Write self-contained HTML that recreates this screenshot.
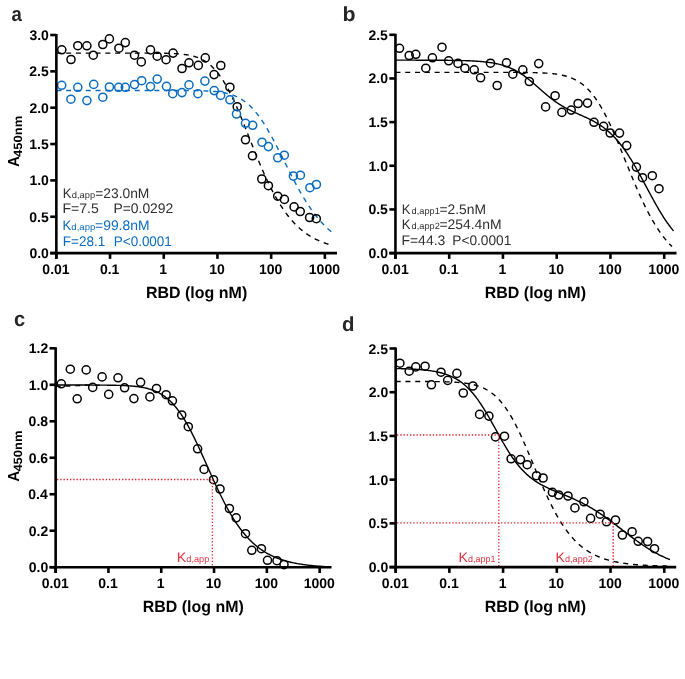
<!DOCTYPE html>
<html><head><meta charset="utf-8"><style>
html,body{margin:0;padding:0;background:#fff;width:685px;height:679px;overflow:hidden;}
svg{display:block;will-change:transform;}
text{font-family:"Liberation Sans",sans-serif;text-rendering:geometricPrecision;}
</style></head><body>
<svg width="685" height="679" viewBox="0 0 685 679">
<rect width="685" height="679" fill="#fff"/>
<text x="11.54" y="21.30" font-size="20.5" font-weight="bold" fill="#262626" textLength="10.34" lengthAdjust="spacingAndGlyphs">a</text>
<path d="M56.35,53.10 L57.35,53.10 L58.35,53.10 L59.35,53.10 L60.35,53.10 L61.35,53.10 L62.35,53.10 L63.35,53.10 L64.35,53.10 L65.35,53.10 L66.35,53.10 L67.35,53.10 L68.35,53.10 L69.35,53.10 L70.35,53.10 L71.35,53.10 L72.35,53.10 L73.35,53.10 L74.35,53.10 L75.35,53.10 L76.35,53.10 L77.35,53.10 L78.35,53.10 L79.35,53.10 L80.35,53.10 L81.35,53.10 L82.35,53.10 L83.35,53.10 L84.35,53.10 L85.35,53.10 L86.35,53.10 L87.35,53.10 L88.35,53.10 L89.35,53.10 L90.35,53.10 L91.35,53.10 L92.35,53.10 L93.35,53.10 L94.35,53.10 L95.35,53.10 L96.35,53.10 L97.35,53.10 L98.35,53.10 L99.35,53.10 L100.35,53.10 L101.35,53.10 L102.35,53.10 L103.35,53.10 L104.35,53.10 L105.35,53.10 L106.35,53.10 L107.35,53.10 L108.35,53.10 L109.35,53.10 L110.35,53.10 L111.35,53.10 L112.35,53.10 L113.35,53.10 L114.35,53.10 L115.35,53.10 L116.35,53.10 L117.35,53.10 L118.35,53.10 L119.35,53.10 L120.35,53.10 L121.35,53.10 L122.35,53.10 L123.35,53.10 L124.35,53.10 L125.35,53.10 L126.35,53.11 L127.35,53.11 L128.35,53.11 L129.35,53.11 L130.35,53.11 L131.35,53.11 L132.35,53.11 L133.35,53.11 L134.35,53.11 L135.35,53.11 L136.35,53.11 L137.35,53.11 L138.35,53.11 L139.35,53.11 L140.35,53.12 L141.35,53.12 L142.35,53.12 L143.35,53.12 L144.35,53.12 L145.35,53.13 L146.35,53.13 L147.35,53.13 L148.35,53.13 L149.35,53.14 L150.35,53.14 L151.35,53.15 L152.35,53.15 L153.35,53.16 L154.35,53.16 L155.35,53.17 L156.35,53.18 L157.35,53.19 L158.35,53.20 L159.35,53.21 L160.35,53.22 L161.35,53.23 L162.35,53.25 L163.35,53.26 L164.35,53.28 L165.35,53.30 L166.35,53.32 L167.35,53.35 L168.35,53.38 L169.35,53.41 L170.35,53.44 L171.35,53.47 L172.35,53.51 L173.35,53.56 L174.35,53.61 L175.35,53.66 L176.35,53.72 L177.35,53.78 L178.35,53.85 L179.35,53.93 L180.35,54.01 L181.35,54.11 L182.35,54.21 L183.35,54.32 L184.35,54.44 L185.35,54.57 L186.35,54.72 L187.35,54.88 L188.35,55.05 L189.35,55.24 L190.35,55.44 L191.35,55.66 L192.35,55.90 L193.35,56.16 L194.35,56.44 L195.35,56.74 L196.35,57.07 L197.35,57.42 L198.35,57.80 L199.35,58.21 L200.35,58.65 L201.35,59.12 L202.35,59.63 L203.35,60.17 L204.35,60.75 L205.35,61.36 L206.35,62.02 L207.35,62.72 L208.35,63.47 L209.35,64.26 L210.35,65.10 L211.35,65.98 L212.35,66.92 L213.35,67.91 L214.35,68.96 L215.35,70.05 L216.35,71.21 L217.35,72.42 L218.35,73.69 L219.35,75.01 L220.35,76.40 L221.35,77.84 L222.35,79.35 L223.35,80.91 L224.35,82.53 L225.35,84.21 L226.35,85.95 L227.35,87.75 L228.35,89.60 L229.35,91.51 L230.35,93.47 L231.35,95.49 L232.35,97.55 L233.35,99.66 L234.35,101.82 L235.35,104.03 L236.35,106.27 L237.35,108.56 L238.35,110.88 L239.35,113.23 L240.35,115.62 L241.35,118.03 L242.35,120.47 L243.35,122.93 L244.35,125.40 L245.35,127.90 L246.35,130.40 L247.35,132.92 L248.35,135.43 L249.35,137.96 L250.35,140.48 L251.35,143.00 L252.35,145.51 L253.35,148.01 L254.35,150.50 L255.35,152.98 L256.35,155.44 L257.35,157.88 L258.35,160.30 L259.35,162.69 L260.35,165.06 L261.35,167.40 L262.35,169.71 L263.35,171.99 L264.35,174.24 L265.35,176.45 L266.35,178.62 L267.35,180.76 L268.35,182.86 L269.35,184.92 L270.35,186.94 L271.35,188.93 L272.35,190.87 L273.35,192.77 L274.35,194.62 L275.35,196.44 L276.35,198.21 L277.35,199.95 L278.35,201.63 L279.35,203.28 L280.35,204.89 L281.35,206.45 L282.35,207.98 L283.35,209.46 L284.35,210.90 L285.35,212.30 L286.35,213.66 L287.35,214.99 L288.35,216.27 L289.35,217.52 L290.35,218.73 L291.35,219.90 L292.35,221.04 L293.35,222.14 L294.35,223.21 L295.35,224.24 L296.35,225.24 L297.35,226.21 L298.35,227.15 L299.35,228.06 L300.35,228.93 L301.35,229.78 L302.35,230.60 L303.35,231.39 L304.35,232.16 L305.35,232.90 L306.35,233.61 L307.35,234.30 L308.35,234.97 L309.35,235.61 L310.35,236.23 L311.35,236.83 L312.35,237.40 L313.35,237.96 L314.35,238.50 L315.35,239.01 L316.35,239.51 L317.35,239.99 L318.35,240.45 L319.35,240.90 L320.35,241.33 L321.35,241.75 L322.35,242.14 L323.35,242.53 L324.35,242.90 L325.35,243.25 L326.35,243.60 L327.35,243.93 L328.35,244.25 L329.35,244.55 L330.35,244.85 L331.35,245.13 L332.35,245.40 L333.00,245.57" fill="none" stroke="#000" stroke-width="1.4" stroke-dasharray="5 4.8"/>
<path d="M56.35,90.48 L57.35,90.48 L58.35,90.48 L59.35,90.48 L60.35,90.48 L61.35,90.48 L62.35,90.48 L63.35,90.48 L64.35,90.48 L65.35,90.48 L66.35,90.48 L67.35,90.48 L68.35,90.48 L69.35,90.48 L70.35,90.48 L71.35,90.48 L72.35,90.48 L73.35,90.48 L74.35,90.48 L75.35,90.48 L76.35,90.48 L77.35,90.48 L78.35,90.48 L79.35,90.48 L80.35,90.48 L81.35,90.48 L82.35,90.48 L83.35,90.48 L84.35,90.48 L85.35,90.48 L86.35,90.48 L87.35,90.48 L88.35,90.48 L89.35,90.48 L90.35,90.48 L91.35,90.48 L92.35,90.48 L93.35,90.48 L94.35,90.48 L95.35,90.48 L96.35,90.48 L97.35,90.48 L98.35,90.48 L99.35,90.48 L100.35,90.48 L101.35,90.48 L102.35,90.48 L103.35,90.48 L104.35,90.48 L105.35,90.48 L106.35,90.48 L107.35,90.48 L108.35,90.48 L109.35,90.48 L110.35,90.48 L111.35,90.48 L112.35,90.48 L113.35,90.48 L114.35,90.48 L115.35,90.48 L116.35,90.48 L117.35,90.48 L118.35,90.48 L119.35,90.48 L120.35,90.48 L121.35,90.48 L122.35,90.48 L123.35,90.48 L124.35,90.48 L125.35,90.48 L126.35,90.48 L127.35,90.48 L128.35,90.48 L129.35,90.48 L130.35,90.48 L131.35,90.48 L132.35,90.48 L133.35,90.48 L134.35,90.48 L135.35,90.48 L136.35,90.48 L137.35,90.48 L138.35,90.48 L139.35,90.48 L140.35,90.48 L141.35,90.48 L142.35,90.48 L143.35,90.48 L144.35,90.48 L145.35,90.48 L146.35,90.48 L147.35,90.48 L148.35,90.48 L149.35,90.48 L150.35,90.48 L151.35,90.48 L152.35,90.48 L153.35,90.48 L154.35,90.48 L155.35,90.48 L156.35,90.48 L157.35,90.49 L158.35,90.49 L159.35,90.49 L160.35,90.49 L161.35,90.49 L162.35,90.49 L163.35,90.49 L164.35,90.49 L165.35,90.49 L166.35,90.49 L167.35,90.49 L168.35,90.49 L169.35,90.49 L170.35,90.49 L171.35,90.50 L172.35,90.50 L173.35,90.50 L174.35,90.50 L175.35,90.50 L176.35,90.50 L177.35,90.51 L178.35,90.51 L179.35,90.51 L180.35,90.52 L181.35,90.52 L182.35,90.52 L183.35,90.53 L184.35,90.53 L185.35,90.54 L186.35,90.55 L187.35,90.55 L188.35,90.56 L189.35,90.57 L190.35,90.58 L191.35,90.59 L192.35,90.60 L193.35,90.61 L194.35,90.62 L195.35,90.64 L196.35,90.66 L197.35,90.67 L198.35,90.69 L199.35,90.72 L200.35,90.74 L201.35,90.77 L202.35,90.79 L203.35,90.83 L204.35,90.86 L205.35,90.90 L206.35,90.94 L207.35,90.99 L208.35,91.04 L209.35,91.09 L210.35,91.15 L211.35,91.22 L212.35,91.29 L213.35,91.36 L214.35,91.45 L215.35,91.54 L216.35,91.64 L217.35,91.75 L218.35,91.86 L219.35,91.99 L220.35,92.13 L221.35,92.28 L222.35,92.44 L223.35,92.62 L224.35,92.81 L225.35,93.01 L226.35,93.23 L227.35,93.47 L228.35,93.72 L229.35,94.00 L230.35,94.29 L231.35,94.61 L232.35,94.95 L233.35,95.31 L234.35,95.70 L235.35,96.11 L236.35,96.55 L237.35,97.02 L238.35,97.52 L239.35,98.05 L240.35,98.61 L241.35,99.21 L242.35,99.84 L243.35,100.51 L244.35,101.21 L245.35,101.96 L246.35,102.74 L247.35,103.56 L248.35,104.43 L249.35,105.33 L250.35,106.28 L251.35,107.28 L252.35,108.31 L253.35,109.39 L254.35,110.52 L255.35,111.69 L256.35,112.91 L257.35,114.17 L258.35,115.47 L259.35,116.82 L260.35,118.21 L261.35,119.65 L262.35,121.13 L263.35,122.65 L264.35,124.21 L265.35,125.81 L266.35,127.45 L267.35,129.13 L268.35,130.84 L269.35,132.59 L270.35,134.36 L271.35,136.17 L272.35,138.00 L273.35,139.87 L274.35,141.75 L275.35,143.66 L276.35,145.58 L277.35,147.53 L278.35,149.49 L279.35,151.46 L280.35,153.44 L281.35,155.43 L282.35,157.43 L283.35,159.43 L284.35,161.43 L285.35,163.43 L286.35,165.43 L287.35,167.43 L288.35,169.41 L289.35,171.39 L290.35,173.35 L291.35,175.31 L292.35,177.24 L293.35,179.17 L294.35,181.07 L295.35,182.95 L296.35,184.82 L297.35,186.66 L298.35,188.47 L299.35,190.27 L300.35,192.03 L301.35,193.77 L302.35,195.49 L303.35,197.17 L304.35,198.82 L305.35,200.45 L306.35,202.04 L307.35,203.61 L308.35,205.14 L309.35,206.64 L310.35,208.11 L311.35,209.55 L312.35,210.95 L313.35,212.33 L314.35,213.67 L315.35,214.98 L316.35,216.25 L317.35,217.50 L318.35,218.71 L319.35,219.90 L320.35,221.05 L321.35,222.17 L322.35,223.26 L323.35,224.32 L324.35,225.36 L325.35,226.36 L326.35,227.33 L327.35,228.28 L328.35,229.20 L329.35,230.09 L330.35,230.96 L331.35,231.80 L332.35,232.61 L333.00,233.13" fill="none" stroke="#0b6cc0" stroke-width="1.4" stroke-dasharray="5 4.8"/>
<circle cx="61.8" cy="49.8" r="4.05" fill="none" stroke="#000" stroke-width="1.5"/>
<circle cx="71.0" cy="59.5" r="4.05" fill="none" stroke="#000" stroke-width="1.5"/>
<circle cx="77.8" cy="45.7" r="4.05" fill="none" stroke="#000" stroke-width="1.5"/>
<circle cx="86.9" cy="45.8" r="4.05" fill="none" stroke="#000" stroke-width="1.5"/>
<circle cx="93.3" cy="55.2" r="4.05" fill="none" stroke="#000" stroke-width="1.5"/>
<circle cx="102.8" cy="44.5" r="4.05" fill="none" stroke="#000" stroke-width="1.5"/>
<circle cx="109.4" cy="38.9" r="4.05" fill="none" stroke="#000" stroke-width="1.5"/>
<circle cx="118.9" cy="48.2" r="4.05" fill="none" stroke="#000" stroke-width="1.5"/>
<circle cx="125.3" cy="42.6" r="4.05" fill="none" stroke="#000" stroke-width="1.5"/>
<circle cx="134.5" cy="55.2" r="4.05" fill="none" stroke="#000" stroke-width="1.5"/>
<circle cx="141.3" cy="61.9" r="4.05" fill="none" stroke="#000" stroke-width="1.5"/>
<circle cx="150.5" cy="49.9" r="4.05" fill="none" stroke="#000" stroke-width="1.5"/>
<circle cx="157.2" cy="56.2" r="4.05" fill="none" stroke="#000" stroke-width="1.5"/>
<circle cx="166.1" cy="59.7" r="4.05" fill="none" stroke="#000" stroke-width="1.5"/>
<circle cx="173.1" cy="53.1" r="4.05" fill="none" stroke="#000" stroke-width="1.5"/>
<circle cx="182.0" cy="68.5" r="4.05" fill="none" stroke="#000" stroke-width="1.5"/>
<circle cx="189.0" cy="62.8" r="4.05" fill="none" stroke="#000" stroke-width="1.5"/>
<circle cx="198.3" cy="65.4" r="4.05" fill="none" stroke="#000" stroke-width="1.5"/>
<circle cx="205.3" cy="57.9" r="4.05" fill="none" stroke="#000" stroke-width="1.5"/>
<circle cx="214.1" cy="74.6" r="4.05" fill="none" stroke="#000" stroke-width="1.5"/>
<circle cx="220.8" cy="65.5" r="4.05" fill="none" stroke="#000" stroke-width="1.5"/>
<circle cx="229.9" cy="87.2" r="4.05" fill="none" stroke="#000" stroke-width="1.5"/>
<circle cx="237.2" cy="106.7" r="4.05" fill="none" stroke="#000" stroke-width="1.5"/>
<circle cx="245.5" cy="139.8" r="4.05" fill="none" stroke="#000" stroke-width="1.5"/>
<circle cx="252.5" cy="155.8" r="4.05" fill="none" stroke="#000" stroke-width="1.5"/>
<circle cx="261.8" cy="179.0" r="4.05" fill="none" stroke="#000" stroke-width="1.5"/>
<circle cx="268.4" cy="185.7" r="4.05" fill="none" stroke="#000" stroke-width="1.5"/>
<circle cx="277.7" cy="196.2" r="4.05" fill="none" stroke="#000" stroke-width="1.5"/>
<circle cx="284.4" cy="199.4" r="4.05" fill="none" stroke="#000" stroke-width="1.5"/>
<circle cx="294.1" cy="206.9" r="4.05" fill="none" stroke="#000" stroke-width="1.5"/>
<circle cx="300.2" cy="211.5" r="4.05" fill="none" stroke="#000" stroke-width="1.5"/>
<circle cx="309.6" cy="217.5" r="4.05" fill="none" stroke="#000" stroke-width="1.5"/>
<circle cx="316.3" cy="218.7" r="4.05" fill="none" stroke="#000" stroke-width="1.5"/>
<circle cx="61.7" cy="85.3" r="4.05" fill="none" stroke="#0b6cc0" stroke-width="1.5"/>
<circle cx="70.9" cy="99.2" r="4.05" fill="none" stroke="#0b6cc0" stroke-width="1.5"/>
<circle cx="77.8" cy="87.3" r="4.05" fill="none" stroke="#0b6cc0" stroke-width="1.5"/>
<circle cx="86.9" cy="100.6" r="4.05" fill="none" stroke="#0b6cc0" stroke-width="1.5"/>
<circle cx="93.7" cy="84.4" r="4.05" fill="none" stroke="#0b6cc0" stroke-width="1.5"/>
<circle cx="102.8" cy="97.2" r="4.05" fill="none" stroke="#0b6cc0" stroke-width="1.5"/>
<circle cx="109.4" cy="87.0" r="4.05" fill="none" stroke="#0b6cc0" stroke-width="1.5"/>
<circle cx="118.7" cy="87.3" r="4.05" fill="none" stroke="#0b6cc0" stroke-width="1.5"/>
<circle cx="125.3" cy="87.3" r="4.05" fill="none" stroke="#0b6cc0" stroke-width="1.5"/>
<circle cx="134.5" cy="84.6" r="4.05" fill="none" stroke="#0b6cc0" stroke-width="1.5"/>
<circle cx="141.7" cy="80.7" r="4.05" fill="none" stroke="#0b6cc0" stroke-width="1.5"/>
<circle cx="150.5" cy="86.6" r="4.05" fill="none" stroke="#0b6cc0" stroke-width="1.5"/>
<circle cx="157.2" cy="79.1" r="4.05" fill="none" stroke="#0b6cc0" stroke-width="1.5"/>
<circle cx="166.5" cy="86.4" r="4.05" fill="none" stroke="#0b6cc0" stroke-width="1.5"/>
<circle cx="172.7" cy="93.7" r="4.05" fill="none" stroke="#0b6cc0" stroke-width="1.5"/>
<circle cx="182.0" cy="92.6" r="4.05" fill="none" stroke="#0b6cc0" stroke-width="1.5"/>
<circle cx="189.0" cy="84.9" r="4.05" fill="none" stroke="#0b6cc0" stroke-width="1.5"/>
<circle cx="197.9" cy="93.7" r="4.05" fill="none" stroke="#0b6cc0" stroke-width="1.5"/>
<circle cx="204.9" cy="81.1" r="4.05" fill="none" stroke="#0b6cc0" stroke-width="1.5"/>
<circle cx="214.2" cy="90.6" r="4.05" fill="none" stroke="#0b6cc0" stroke-width="1.5"/>
<circle cx="220.6" cy="95.4" r="4.05" fill="none" stroke="#0b6cc0" stroke-width="1.5"/>
<circle cx="229.9" cy="99.8" r="4.05" fill="none" stroke="#0b6cc0" stroke-width="1.5"/>
<circle cx="236.5" cy="114.0" r="4.05" fill="none" stroke="#0b6cc0" stroke-width="1.5"/>
<circle cx="245.5" cy="123.3" r="4.05" fill="none" stroke="#0b6cc0" stroke-width="1.5"/>
<circle cx="252.7" cy="125.3" r="4.05" fill="none" stroke="#0b6cc0" stroke-width="1.5"/>
<circle cx="262.0" cy="142.2" r="4.05" fill="none" stroke="#0b6cc0" stroke-width="1.5"/>
<circle cx="268.4" cy="146.6" r="4.05" fill="none" stroke="#0b6cc0" stroke-width="1.5"/>
<circle cx="277.7" cy="157.8" r="4.05" fill="none" stroke="#0b6cc0" stroke-width="1.5"/>
<circle cx="284.3" cy="155.2" r="4.05" fill="none" stroke="#0b6cc0" stroke-width="1.5"/>
<circle cx="293.4" cy="176.1" r="4.05" fill="none" stroke="#0b6cc0" stroke-width="1.5"/>
<circle cx="300.4" cy="175.2" r="4.05" fill="none" stroke="#0b6cc0" stroke-width="1.5"/>
<circle cx="309.9" cy="187.7" r="4.05" fill="none" stroke="#0b6cc0" stroke-width="1.5"/>
<circle cx="316.4" cy="184.5" r="4.05" fill="none" stroke="#0b6cc0" stroke-width="1.5"/>
<line x1="56.35" y1="34.00" x2="56.35" y2="258.90" stroke="#000" stroke-width="2.6"/>
<line x1="50.25" y1="253.1" x2="337.00" y2="253.1" stroke="#000" stroke-width="2.6"/>
<line x1="50.25" y1="253.10" x2="56.35" y2="253.10" stroke="#000" stroke-width="2.6"/>
<text x="29.45" y="258.10" font-size="14.0" font-weight="bold" fill="#000">0.0</text>
<line x1="50.25" y1="216.75" x2="56.35" y2="216.75" stroke="#000" stroke-width="2.6"/>
<text x="29.28" y="221.75" font-size="14.0" font-weight="bold" fill="#000">0.5</text>
<line x1="50.25" y1="180.40" x2="56.35" y2="180.40" stroke="#000" stroke-width="2.6"/>
<text x="29.45" y="185.40" font-size="14.0" font-weight="bold" fill="#000">1.0</text>
<line x1="50.25" y1="144.05" x2="56.35" y2="144.05" stroke="#000" stroke-width="2.6"/>
<text x="29.28" y="149.05" font-size="14.0" font-weight="bold" fill="#000">1.5</text>
<line x1="50.25" y1="107.70" x2="56.35" y2="107.70" stroke="#000" stroke-width="2.6"/>
<text x="29.45" y="112.70" font-size="14.0" font-weight="bold" fill="#000">2.0</text>
<line x1="50.25" y1="71.35" x2="56.35" y2="71.35" stroke="#000" stroke-width="2.6"/>
<text x="29.28" y="76.35" font-size="14.0" font-weight="bold" fill="#000">2.5</text>
<line x1="50.25" y1="35.00" x2="56.35" y2="35.00" stroke="#000" stroke-width="2.6"/>
<text x="29.45" y="40.00" font-size="14.0" font-weight="bold" fill="#000">3.0</text>
<line x1="56.35" y1="253.1" x2="56.35" y2="258.90" stroke="#000" stroke-width="2.6"/>
<text x="42.35" y="274.00" font-size="14.0" font-weight="bold" fill="#000">0.01</text>
<line x1="110.05" y1="253.1" x2="110.05" y2="258.90" stroke="#000" stroke-width="2.6"/>
<text x="99.93" y="274.00" font-size="14.0" font-weight="bold" fill="#000">0.1</text>
<line x1="163.75" y1="253.1" x2="163.75" y2="258.90" stroke="#000" stroke-width="2.6"/>
<text x="159.32" y="274.00" font-size="14.0" font-weight="bold" fill="#000">1</text>
<line x1="217.45" y1="253.1" x2="217.45" y2="258.90" stroke="#000" stroke-width="2.6"/>
<text x="209.22" y="274.00" font-size="14.0" font-weight="bold" fill="#000">10</text>
<line x1="271.15" y1="253.1" x2="271.15" y2="258.90" stroke="#000" stroke-width="2.6"/>
<text x="259.02" y="274.00" font-size="14.0" font-weight="bold" fill="#000">100</text>
<line x1="324.85" y1="253.1" x2="324.85" y2="258.90" stroke="#000" stroke-width="2.6"/>
<text x="308.84" y="274.00" font-size="14.0" font-weight="bold" fill="#000">1000</text>
<text x="145.92" y="298.00" font-size="16.2" font-weight="bold" fill="#000" textLength="101.31" lengthAdjust="spacingAndGlyphs">RBD (log nM)</text>
<g transform="translate(18.50,166.70) rotate(-90)"><text x="-0.38" y="0" font-size="16.0" font-weight="bold" textLength="10.89" lengthAdjust="spacingAndGlyphs">A</text><text x="9.81" y="3.6" font-size="12.0" font-weight="bold" textLength="41.09" lengthAdjust="spacingAndGlyphs">450nm</text></g>
<text x="62.82" y="197.70" font-size="13.8" fill="#2f2f2f" textLength="8.74" lengthAdjust="spacingAndGlyphs">K</text>
<text x="71.80" y="197.70" font-size="9.0" fill="#2f2f2f" textLength="23.37" lengthAdjust="spacingAndGlyphs">d,app</text>
<text x="95.26" y="197.70" font-size="13.8" fill="#2f2f2f" textLength="54.07" lengthAdjust="spacingAndGlyphs">=23.0nM</text>
<text x="62.54" y="212.70" font-size="13.8" fill="#2f2f2f" textLength="36.22" lengthAdjust="spacingAndGlyphs">F=7.5</text>
<text x="113.45" y="212.70" font-size="13.8" fill="#2f2f2f" textLength="59.87" lengthAdjust="spacingAndGlyphs">P=0.0292</text>
<text x="62.62" y="230.10" font-size="13.8" fill="#0b6cc0" textLength="8.74" lengthAdjust="spacingAndGlyphs">K</text>
<text x="71.39" y="230.10" font-size="9.0" fill="#0b6cc0" textLength="23.89" lengthAdjust="spacingAndGlyphs">d,app</text>
<text x="95.11" y="230.10" font-size="13.8" fill="#0b6cc0" textLength="54.33" lengthAdjust="spacingAndGlyphs">=99.8nM</text>
<text x="62.78" y="245.60" font-size="13.8" fill="#0b6cc0" textLength="42.47" lengthAdjust="spacingAndGlyphs">F=28.1</text>
<text x="113.79" y="245.60" font-size="13.8" fill="#0b6cc0" textLength="58.08" lengthAdjust="spacingAndGlyphs">P&lt;0.0001</text>
<text x="342.61" y="20.80" font-size="20.5" font-weight="bold" fill="#262626" textLength="13.06" lengthAdjust="spacingAndGlyphs">b</text>
<path d="M395.45,60.16 L396.45,60.16 L397.45,60.16 L398.45,60.16 L399.45,60.16 L400.45,60.16 L401.45,60.16 L402.45,60.16 L403.45,60.16 L404.45,60.16 L405.45,60.16 L406.45,60.16 L407.45,60.17 L408.45,60.17 L409.45,60.17 L410.45,60.17 L411.45,60.17 L412.45,60.17 L413.45,60.17 L414.45,60.17 L415.45,60.17 L416.45,60.18 L417.45,60.18 L418.45,60.18 L419.45,60.18 L420.45,60.18 L421.45,60.18 L422.45,60.19 L423.45,60.19 L424.45,60.19 L425.45,60.19 L426.45,60.20 L427.45,60.20 L428.45,60.20 L429.45,60.21 L430.45,60.21 L431.45,60.21 L432.45,60.22 L433.45,60.22 L434.45,60.23 L435.45,60.23 L436.45,60.24 L437.45,60.24 L438.45,60.25 L439.45,60.25 L440.45,60.26 L441.45,60.27 L442.45,60.27 L443.45,60.28 L444.45,60.29 L445.45,60.30 L446.45,60.31 L447.45,60.32 L448.45,60.33 L449.45,60.34 L450.45,60.35 L451.45,60.37 L452.45,60.38 L453.45,60.40 L454.45,60.41 L455.45,60.43 L456.45,60.45 L457.45,60.47 L458.45,60.49 L459.45,60.51 L460.45,60.53 L461.45,60.56 L462.45,60.58 L463.45,60.61 L464.45,60.64 L465.45,60.67 L466.45,60.70 L467.45,60.74 L468.45,60.78 L469.45,60.82 L470.45,60.86 L471.45,60.91 L472.45,60.96 L473.45,61.01 L474.45,61.07 L475.45,61.12 L476.45,61.19 L477.45,61.25 L478.45,61.33 L479.45,61.40 L480.45,61.48 L481.45,61.57 L482.45,61.66 L483.45,61.75 L484.45,61.86 L485.45,61.96 L486.45,62.08 L487.45,62.20 L488.45,62.33 L489.45,62.47 L490.45,62.61 L491.45,62.77 L492.45,62.93 L493.45,63.11 L494.45,63.29 L495.45,63.48 L496.45,63.69 L497.45,63.91 L498.45,64.13 L499.45,64.38 L500.45,64.63 L501.45,64.90 L502.45,65.19 L503.45,65.49 L504.45,65.80 L505.45,66.13 L506.45,66.48 L507.45,66.85 L508.45,67.23 L509.45,67.64 L510.45,68.06 L511.45,68.50 L512.45,68.96 L513.45,69.44 L514.45,69.95 L515.45,70.47 L516.45,71.02 L517.45,71.58 L518.45,72.17 L519.45,72.78 L520.45,73.42 L521.45,74.07 L522.45,74.74 L523.45,75.44 L524.45,76.15 L525.45,76.88 L526.45,77.63 L527.45,78.40 L528.45,79.19 L529.45,79.99 L530.45,80.81 L531.45,81.64 L532.45,82.48 L533.45,83.33 L534.45,84.20 L535.45,85.06 L536.45,85.94 L537.45,86.82 L538.45,87.70 L539.45,88.58 L540.45,89.46 L541.45,90.34 L542.45,91.21 L543.45,92.08 L544.45,92.94 L545.45,93.80 L546.45,94.64 L547.45,95.47 L548.45,96.29 L549.45,97.10 L550.45,97.89 L551.45,98.67 L552.45,99.43 L553.45,100.18 L554.45,100.91 L555.45,101.62 L556.45,102.32 L557.45,103.00 L558.45,103.66 L559.45,104.31 L560.45,104.94 L561.45,105.55 L562.45,106.15 L563.45,106.73 L564.45,107.29 L565.45,107.85 L566.45,108.39 L567.45,108.91 L568.45,109.43 L569.45,109.93 L570.45,110.43 L571.45,110.91 L572.45,111.39 L573.45,111.86 L574.45,112.32 L575.45,112.78 L576.45,113.23 L577.45,113.68 L578.45,114.12 L579.45,114.57 L580.45,115.01 L581.45,115.45 L582.45,115.90 L583.45,116.35 L584.45,116.80 L585.45,117.26 L586.45,117.72 L587.45,118.19 L588.45,118.67 L589.45,119.16 L590.45,119.65 L591.45,120.16 L592.45,120.68 L593.45,121.21 L594.45,121.76 L595.45,122.32 L596.45,122.90 L597.45,123.50 L598.45,124.11 L599.45,124.75 L600.45,125.40 L601.45,126.08 L602.45,126.78 L603.45,127.50 L604.45,128.25 L605.45,129.02 L606.45,129.82 L607.45,130.64 L608.45,131.50 L609.45,132.38 L610.45,133.29 L611.45,134.24 L612.45,135.21 L613.45,136.22 L614.45,137.26 L615.45,138.34 L616.45,139.44 L617.45,140.59 L618.45,141.76 L619.45,142.98 L620.45,144.22 L621.45,145.51 L622.45,146.82 L623.45,148.18 L624.45,149.57 L625.45,150.99 L626.45,152.45 L627.45,153.94 L628.45,155.46 L629.45,157.02 L630.45,158.61 L631.45,160.22 L632.45,161.87 L633.45,163.55 L634.45,165.25 L635.45,166.98 L636.45,168.73 L637.45,170.50 L638.45,172.29 L639.45,174.10 L640.45,175.92 L641.45,177.76 L642.45,179.61 L643.45,181.47 L644.45,183.33 L645.45,185.20 L646.45,187.08 L647.45,188.95 L648.45,190.82 L649.45,192.68 L650.45,194.53 L651.45,196.38 L652.45,198.21 L653.45,200.03 L654.45,201.84 L655.45,203.62 L656.45,205.39 L657.45,207.13 L658.45,208.85 L659.45,210.54 L660.45,212.21 L661.45,213.84 L662.45,215.45 L663.45,217.02 L664.45,218.57 L665.45,220.08 L666.45,221.55 L667.45,222.99 L668.45,224.40 L669.45,225.77 L670.45,227.11 L671.45,228.40 L672.45,229.67 L673.45,230.89 L673.50,230.95" fill="none" stroke="#000" stroke-width="1.4"/>
<path d="M395.45,72.34 L396.45,72.34 L397.45,72.34 L398.45,72.34 L399.45,72.34 L400.45,72.34 L401.45,72.34 L402.45,72.34 L403.45,72.34 L404.45,72.34 L405.45,72.34 L406.45,72.34 L407.45,72.34 L408.45,72.34 L409.45,72.34 L410.45,72.34 L411.45,72.34 L412.45,72.34 L413.45,72.34 L414.45,72.34 L415.45,72.34 L416.45,72.34 L417.45,72.34 L418.45,72.34 L419.45,72.34 L420.45,72.34 L421.45,72.34 L422.45,72.34 L423.45,72.34 L424.45,72.34 L425.45,72.34 L426.45,72.34 L427.45,72.34 L428.45,72.34 L429.45,72.34 L430.45,72.34 L431.45,72.34 L432.45,72.34 L433.45,72.34 L434.45,72.34 L435.45,72.34 L436.45,72.34 L437.45,72.34 L438.45,72.34 L439.45,72.34 L440.45,72.34 L441.45,72.34 L442.45,72.34 L443.45,72.34 L444.45,72.34 L445.45,72.34 L446.45,72.34 L447.45,72.34 L448.45,72.34 L449.45,72.34 L450.45,72.34 L451.45,72.34 L452.45,72.34 L453.45,72.34 L454.45,72.34 L455.45,72.34 L456.45,72.34 L457.45,72.34 L458.45,72.34 L459.45,72.34 L460.45,72.34 L461.45,72.34 L462.45,72.34 L463.45,72.34 L464.45,72.34 L465.45,72.34 L466.45,72.34 L467.45,72.34 L468.45,72.34 L469.45,72.34 L470.45,72.34 L471.45,72.34 L472.45,72.34 L473.45,72.34 L474.45,72.34 L475.45,72.34 L476.45,72.34 L477.45,72.34 L478.45,72.34 L479.45,72.34 L480.45,72.34 L481.45,72.34 L482.45,72.34 L483.45,72.35 L484.45,72.35 L485.45,72.35 L486.45,72.35 L487.45,72.35 L488.45,72.35 L489.45,72.35 L490.45,72.35 L491.45,72.35 L492.45,72.35 L493.45,72.35 L494.45,72.35 L495.45,72.35 L496.45,72.35 L497.45,72.35 L498.45,72.36 L499.45,72.36 L500.45,72.36 L501.45,72.36 L502.45,72.36 L503.45,72.36 L504.45,72.36 L505.45,72.37 L506.45,72.37 L507.45,72.37 L508.45,72.37 L509.45,72.38 L510.45,72.38 L511.45,72.38 L512.45,72.39 L513.45,72.39 L514.45,72.40 L515.45,72.40 L516.45,72.41 L517.45,72.41 L518.45,72.42 L519.45,72.43 L520.45,72.43 L521.45,72.44 L522.45,72.45 L523.45,72.46 L524.45,72.47 L525.45,72.48 L526.45,72.49 L527.45,72.51 L528.45,72.52 L529.45,72.54 L530.45,72.56 L531.45,72.58 L532.45,72.60 L533.45,72.62 L534.45,72.64 L535.45,72.67 L536.45,72.70 L537.45,72.73 L538.45,72.76 L539.45,72.80 L540.45,72.84 L541.45,72.88 L542.45,72.93 L543.45,72.98 L544.45,73.04 L545.45,73.09 L546.45,73.16 L547.45,73.23 L548.45,73.30 L549.45,73.38 L550.45,73.47 L551.45,73.57 L552.45,73.67 L553.45,73.78 L554.45,73.90 L555.45,74.03 L556.45,74.16 L557.45,74.31 L558.45,74.47 L559.45,74.64 L560.45,74.83 L561.45,75.03 L562.45,75.24 L563.45,75.47 L564.45,75.72 L565.45,75.98 L566.45,76.26 L567.45,76.56 L568.45,76.88 L569.45,77.23 L570.45,77.59 L571.45,77.99 L572.45,78.40 L573.45,78.85 L574.45,79.32 L575.45,79.82 L576.45,80.36 L577.45,80.93 L578.45,81.53 L579.45,82.16 L580.45,82.84 L581.45,83.55 L582.45,84.30 L583.45,85.10 L584.45,85.93 L585.45,86.81 L586.45,87.74 L587.45,88.71 L588.45,89.73 L589.45,90.80 L590.45,91.92 L591.45,93.09 L592.45,94.31 L593.45,95.59 L594.45,96.91 L595.45,98.29 L596.45,99.73 L597.45,101.22 L598.45,102.76 L599.45,104.36 L600.45,106.01 L601.45,107.72 L602.45,109.47 L603.45,111.28 L604.45,113.15 L605.45,115.06 L606.45,117.02 L607.45,119.03 L608.45,121.08 L609.45,123.18 L610.45,125.32 L611.45,127.50 L612.45,129.72 L613.45,131.98 L614.45,134.27 L615.45,136.59 L616.45,138.94 L617.45,141.31 L618.45,143.71 L619.45,146.13 L620.45,148.56 L621.45,151.01 L622.45,153.47 L623.45,155.94 L624.45,158.41 L625.45,160.89 L626.45,163.36 L627.45,165.84 L628.45,168.31 L629.45,170.76 L630.45,173.21 L631.45,175.65 L632.45,178.07 L633.45,180.46 L634.45,182.84 L635.45,185.20 L636.45,187.53 L637.45,189.84 L638.45,192.11 L639.45,194.36 L640.45,196.57 L641.45,198.75 L642.45,200.90 L643.45,203.01 L644.45,205.08 L645.45,207.11 L646.45,209.11 L647.45,211.07 L648.45,212.99 L649.45,214.86 L650.45,216.70 L651.45,218.50 L652.45,220.25 L653.45,221.96 L654.45,223.64 L655.45,225.27 L656.45,226.85 L657.45,228.40 L658.45,229.91 L659.45,231.38 L660.45,232.80 L661.45,234.19 L662.45,235.54 L663.45,236.85 L664.45,238.12 L665.45,239.35 L666.45,240.55 L667.45,241.71 L668.45,242.83 L669.45,243.92 L670.45,244.98 L671.45,246.00 L672.00,246.55" fill="none" stroke="#000" stroke-width="1.4" stroke-dasharray="5 4.8"/>
<circle cx="399.5" cy="48.3" r="4.05" fill="none" stroke="#000" stroke-width="1.5"/>
<circle cx="409.2" cy="55.5" r="4.05" fill="none" stroke="#000" stroke-width="1.5"/>
<circle cx="415.8" cy="54.3" r="4.05" fill="none" stroke="#000" stroke-width="1.5"/>
<circle cx="425.8" cy="68.2" r="4.05" fill="none" stroke="#000" stroke-width="1.5"/>
<circle cx="432.4" cy="57.8" r="4.05" fill="none" stroke="#000" stroke-width="1.5"/>
<circle cx="442.0" cy="47.2" r="4.05" fill="none" stroke="#000" stroke-width="1.5"/>
<circle cx="448.7" cy="60.8" r="4.05" fill="none" stroke="#000" stroke-width="1.5"/>
<circle cx="458.0" cy="63.4" r="4.05" fill="none" stroke="#000" stroke-width="1.5"/>
<circle cx="464.9" cy="68.2" r="4.05" fill="none" stroke="#000" stroke-width="1.5"/>
<circle cx="474.2" cy="69.8" r="4.05" fill="none" stroke="#000" stroke-width="1.5"/>
<circle cx="480.6" cy="77.8" r="4.05" fill="none" stroke="#000" stroke-width="1.5"/>
<circle cx="490.5" cy="63.2" r="4.05" fill="none" stroke="#000" stroke-width="1.5"/>
<circle cx="497.2" cy="85.5" r="4.05" fill="none" stroke="#000" stroke-width="1.5"/>
<circle cx="506.5" cy="62.8" r="4.05" fill="none" stroke="#000" stroke-width="1.5"/>
<circle cx="512.8" cy="74.2" r="4.05" fill="none" stroke="#000" stroke-width="1.5"/>
<circle cx="522.8" cy="69.8" r="4.05" fill="none" stroke="#000" stroke-width="1.5"/>
<circle cx="529.3" cy="81.5" r="4.05" fill="none" stroke="#000" stroke-width="1.5"/>
<circle cx="538.7" cy="63.6" r="4.05" fill="none" stroke="#000" stroke-width="1.5"/>
<circle cx="545.6" cy="106.9" r="4.05" fill="none" stroke="#000" stroke-width="1.5"/>
<circle cx="555.1" cy="95.7" r="4.05" fill="none" stroke="#000" stroke-width="1.5"/>
<circle cx="561.9" cy="112.4" r="4.05" fill="none" stroke="#000" stroke-width="1.5"/>
<circle cx="571.2" cy="110.1" r="4.05" fill="none" stroke="#000" stroke-width="1.5"/>
<circle cx="578.1" cy="103.5" r="4.05" fill="none" stroke="#000" stroke-width="1.5"/>
<circle cx="587.5" cy="103.1" r="4.05" fill="none" stroke="#000" stroke-width="1.5"/>
<circle cx="594.0" cy="122.3" r="4.05" fill="none" stroke="#000" stroke-width="1.5"/>
<circle cx="603.6" cy="126.4" r="4.05" fill="none" stroke="#000" stroke-width="1.5"/>
<circle cx="610.2" cy="133.0" r="4.05" fill="none" stroke="#000" stroke-width="1.5"/>
<circle cx="619.5" cy="133.1" r="4.05" fill="none" stroke="#000" stroke-width="1.5"/>
<circle cx="626.7" cy="145.6" r="4.05" fill="none" stroke="#000" stroke-width="1.5"/>
<circle cx="636.4" cy="167.1" r="4.05" fill="none" stroke="#000" stroke-width="1.5"/>
<circle cx="642.5" cy="177.7" r="4.05" fill="none" stroke="#000" stroke-width="1.5"/>
<circle cx="652.3" cy="175.7" r="4.05" fill="none" stroke="#000" stroke-width="1.5"/>
<circle cx="659.0" cy="188.7" r="4.05" fill="none" stroke="#000" stroke-width="1.5"/>
<line x1="395.45" y1="33.80" x2="395.45" y2="258.90" stroke="#000" stroke-width="2.6"/>
<line x1="389.35" y1="253.1" x2="676.50" y2="253.1" stroke="#000" stroke-width="2.6"/>
<line x1="389.35" y1="253.10" x2="395.45" y2="253.10" stroke="#000" stroke-width="2.6"/>
<text x="368.55" y="258.10" font-size="14.0" font-weight="bold" fill="#000">0.0</text>
<line x1="389.35" y1="209.44" x2="395.45" y2="209.44" stroke="#000" stroke-width="2.6"/>
<text x="368.38" y="214.44" font-size="14.0" font-weight="bold" fill="#000">0.5</text>
<line x1="389.35" y1="165.78" x2="395.45" y2="165.78" stroke="#000" stroke-width="2.6"/>
<text x="368.55" y="170.78" font-size="14.0" font-weight="bold" fill="#000">1.0</text>
<line x1="389.35" y1="122.12" x2="395.45" y2="122.12" stroke="#000" stroke-width="2.6"/>
<text x="368.38" y="127.12" font-size="14.0" font-weight="bold" fill="#000">1.5</text>
<line x1="389.35" y1="78.46" x2="395.45" y2="78.46" stroke="#000" stroke-width="2.6"/>
<text x="368.55" y="83.46" font-size="14.0" font-weight="bold" fill="#000">2.0</text>
<line x1="389.35" y1="34.80" x2="395.45" y2="34.80" stroke="#000" stroke-width="2.6"/>
<text x="368.38" y="39.80" font-size="14.0" font-weight="bold" fill="#000">2.5</text>
<line x1="395.45" y1="253.1" x2="395.45" y2="258.90" stroke="#000" stroke-width="2.6"/>
<text x="381.45" y="274.00" font-size="14.0" font-weight="bold" fill="#000">0.01</text>
<line x1="449.20" y1="253.1" x2="449.20" y2="258.90" stroke="#000" stroke-width="2.6"/>
<text x="439.08" y="274.00" font-size="14.0" font-weight="bold" fill="#000">0.1</text>
<line x1="502.95" y1="253.1" x2="502.95" y2="258.90" stroke="#000" stroke-width="2.6"/>
<text x="498.52" y="274.00" font-size="14.0" font-weight="bold" fill="#000">1</text>
<line x1="556.70" y1="253.1" x2="556.70" y2="258.90" stroke="#000" stroke-width="2.6"/>
<text x="548.47" y="274.00" font-size="14.0" font-weight="bold" fill="#000">10</text>
<line x1="610.45" y1="253.1" x2="610.45" y2="258.90" stroke="#000" stroke-width="2.6"/>
<text x="598.32" y="274.00" font-size="14.0" font-weight="bold" fill="#000">100</text>
<line x1="664.20" y1="253.1" x2="664.20" y2="258.90" stroke="#000" stroke-width="2.6"/>
<text x="648.19" y="274.00" font-size="14.0" font-weight="bold" fill="#000">1000</text>
<text x="484.72" y="298.00" font-size="16.2" font-weight="bold" fill="#000" textLength="101.31" lengthAdjust="spacingAndGlyphs">RBD (log nM)</text>
<text x="401.82" y="214.00" font-size="13.8" fill="#2f2f2f" textLength="8.74" lengthAdjust="spacingAndGlyphs">K</text>
<text x="411.61" y="214.00" font-size="9.0" fill="#2f2f2f" textLength="28.14" lengthAdjust="spacingAndGlyphs">d,app1</text>
<text x="439.41" y="214.00" font-size="13.8" fill="#2f2f2f" textLength="46.55" lengthAdjust="spacingAndGlyphs">=2.5nM</text>
<text x="401.82" y="229.00" font-size="13.8" fill="#2f2f2f" textLength="8.74" lengthAdjust="spacingAndGlyphs">K</text>
<text x="411.61" y="229.00" font-size="9.0" fill="#2f2f2f" textLength="28.16" lengthAdjust="spacingAndGlyphs">d,app2</text>
<text x="439.41" y="229.00" font-size="13.8" fill="#2f2f2f" textLength="62.15" lengthAdjust="spacingAndGlyphs">=254.4nM</text>
<text x="401.45" y="244.60" font-size="13.8" fill="#2f2f2f" textLength="43.86" lengthAdjust="spacingAndGlyphs">F=44.3</text>
<text x="452.27" y="244.60" font-size="13.8" fill="#2f2f2f" textLength="59.11" lengthAdjust="spacingAndGlyphs">P&lt;0.0001</text>
<text x="14.10" y="325.60" font-size="21.0" font-weight="bold" fill="#262626" textLength="11.18" lengthAdjust="spacingAndGlyphs">c</text>
<path d="M55.65,385.04 L56.65,385.04 L57.65,385.04 L58.65,385.04 L59.65,385.04 L60.65,385.04 L61.65,385.04 L62.65,385.04 L63.65,385.04 L64.65,385.04 L65.65,385.04 L66.65,385.04 L67.65,385.04 L68.65,385.04 L69.65,385.04 L70.65,385.05 L71.65,385.05 L72.65,385.05 L73.65,385.05 L74.65,385.05 L75.65,385.05 L76.65,385.05 L77.65,385.05 L78.65,385.05 L79.65,385.05 L80.65,385.05 L81.65,385.05 L82.65,385.06 L83.65,385.06 L84.65,385.06 L85.65,385.06 L86.65,385.06 L87.65,385.06 L88.65,385.07 L89.65,385.07 L90.65,385.07 L91.65,385.07 L92.65,385.08 L93.65,385.08 L94.65,385.08 L95.65,385.09 L96.65,385.09 L97.65,385.10 L98.65,385.10 L99.65,385.11 L100.65,385.11 L101.65,385.12 L102.65,385.13 L103.65,385.14 L104.65,385.15 L105.65,385.15 L106.65,385.17 L107.65,385.18 L108.65,385.19 L109.65,385.20 L110.65,385.22 L111.65,385.23 L112.65,385.25 L113.65,385.27 L114.65,385.29 L115.65,385.31 L116.65,385.33 L117.65,385.36 L118.65,385.39 L119.65,385.42 L120.65,385.45 L121.65,385.48 L122.65,385.52 L123.65,385.56 L124.65,385.61 L125.65,385.66 L126.65,385.71 L127.65,385.77 L128.65,385.83 L129.65,385.90 L130.65,385.97 L131.65,386.05 L132.65,386.13 L133.65,386.22 L134.65,386.32 L135.65,386.43 L136.65,386.54 L137.65,386.67 L138.65,386.80 L139.65,386.94 L140.65,387.09 L141.65,387.26 L142.65,387.44 L143.65,387.63 L144.65,387.83 L145.65,388.05 L146.65,388.29 L147.65,388.54 L148.65,388.81 L149.65,389.09 L150.65,389.40 L151.65,389.73 L152.65,390.08 L153.65,390.45 L154.65,390.85 L155.65,391.27 L156.65,391.72 L157.65,392.20 L158.65,392.71 L159.65,393.25 L160.65,393.82 L161.65,394.42 L162.65,395.06 L163.65,395.73 L164.65,396.44 L165.65,397.19 L166.65,397.98 L167.65,398.81 L168.65,399.68 L169.65,400.59 L170.65,401.55 L171.65,402.55 L172.65,403.60 L173.65,404.70 L174.65,405.84 L175.65,407.03 L176.65,408.27 L177.65,409.56 L178.65,410.90 L179.65,412.29 L180.65,413.72 L181.65,415.21 L182.65,416.74 L183.65,418.32 L184.65,419.95 L185.65,421.63 L186.65,423.35 L187.65,425.12 L188.65,426.93 L189.65,428.78 L190.65,430.68 L191.65,432.61 L192.65,434.58 L193.65,436.58 L194.65,438.62 L195.65,440.69 L196.65,442.79 L197.65,444.91 L198.65,447.06 L199.65,449.23 L200.65,451.42 L201.65,453.63 L202.65,455.84 L203.65,458.08 L204.65,460.31 L205.65,462.56 L206.65,464.81 L207.65,467.06 L208.65,469.31 L209.65,471.55 L210.65,473.79 L211.65,476.01 L212.65,478.23 L213.65,480.43 L214.65,482.62 L215.65,484.79 L216.65,486.93 L217.65,489.06 L218.65,491.16 L219.65,493.24 L220.65,495.29 L221.65,497.31 L222.65,499.31 L223.65,501.27 L224.65,503.20 L225.65,505.10 L226.65,506.96 L227.65,508.79 L228.65,510.58 L229.65,512.34 L230.65,514.06 L231.65,515.74 L232.65,517.39 L233.65,519.00 L234.65,520.57 L235.65,522.11 L236.65,523.61 L237.65,525.07 L238.65,526.49 L239.65,527.88 L240.65,529.23 L241.65,530.54 L242.65,531.82 L243.65,533.06 L244.65,534.26 L245.65,535.43 L246.65,536.57 L247.65,537.67 L248.65,538.74 L249.65,539.78 L250.65,540.79 L251.65,541.76 L252.65,542.71 L253.65,543.62 L254.65,544.50 L255.65,545.36 L256.65,546.19 L257.65,546.99 L258.65,547.76 L259.65,548.51 L260.65,549.24 L261.65,549.93 L262.65,550.61 L263.65,551.26 L264.65,551.89 L265.65,552.50 L266.65,553.08 L267.65,553.65 L268.65,554.19 L269.65,554.72 L270.65,555.22 L271.65,555.71 L272.65,556.18 L273.65,556.64 L274.65,557.07 L275.65,557.50 L276.65,557.90 L277.65,558.29 L278.65,558.67 L279.65,559.03 L280.65,559.38 L281.65,559.72 L282.65,560.04 L283.65,560.35 L284.65,560.65 L285.65,560.94 L286.65,561.22 L287.65,561.48 L288.65,561.74 L289.65,561.99 L290.65,562.23 L291.65,562.45 L292.65,562.67 L293.65,562.88 L294.65,563.09 L295.65,563.28 L296.65,563.47 L297.65,563.65 L298.65,563.83 L299.65,563.99 L300.65,564.15 L301.65,564.31 L302.65,564.46 L303.65,564.60 L304.65,564.74 L305.65,564.87 L306.65,564.99 L307.65,565.11 L308.65,565.23 L309.65,565.34 L310.65,565.45 L311.65,565.56 L312.65,565.65 L313.65,565.75 L314.65,565.84 L315.65,565.93 L316.65,566.01 L317.65,566.10 L318.65,566.17 L319.65,566.25 L320.65,566.32 L321.65,566.39 L322.65,566.46 L323.65,566.52 L324.65,566.58 L325.65,566.64 L326.65,566.70 L327.65,566.75 L328.65,566.81 L329.65,566.86 L330.65,566.90 L331.00,566.92" fill="none" stroke="#000" stroke-width="1.4"/>
<path d="M55.65,386.34 L56.65,386.34 L57.65,386.34 L58.65,386.34 L59.65,386.34 L60.65,386.31 L61.65,386.27 L62.65,386.23 L63.65,386.18 L64.65,386.14 L65.65,386.10 L66.65,386.06 L67.65,386.01 L68.65,385.97 L69.65,385.93 L70.65,385.88 L71.65,385.84 L72.65,385.80 L73.65,385.76 L74.65,385.71 L75.65,385.67 L76.65,385.63 L77.65,385.59 L78.65,385.54 L79.65,385.50 L80.65,385.46 L81.65,385.42 L82.65,385.37 L83.65,385.33 L84.65,385.29 L85.65,385.25 L86.65,385.21 L87.65,385.17 L88.65,385.12 L89.65,385.08 L90.65,385.07 L91.65,385.07 L92.65,385.08 L93.65,385.08 L94.65,385.08 L95.65,385.09 L96.65,385.09 L97.65,385.10 L98.65,385.10 L99.65,385.11 L100.00,385.11" fill="none" stroke="#000" stroke-width="1.4" stroke-dasharray="5 4.8"/>
<circle cx="61.3" cy="383.8" r="4.05" fill="none" stroke="#000" stroke-width="1.5"/>
<circle cx="70.3" cy="369.2" r="4.05" fill="none" stroke="#000" stroke-width="1.5"/>
<circle cx="77.2" cy="398.8" r="4.05" fill="none" stroke="#000" stroke-width="1.5"/>
<circle cx="86.2" cy="369.9" r="4.05" fill="none" stroke="#000" stroke-width="1.5"/>
<circle cx="92.7" cy="387.4" r="4.05" fill="none" stroke="#000" stroke-width="1.5"/>
<circle cx="102.1" cy="376.9" r="4.05" fill="none" stroke="#000" stroke-width="1.5"/>
<circle cx="108.7" cy="394.4" r="4.05" fill="none" stroke="#000" stroke-width="1.5"/>
<circle cx="118.0" cy="377.8" r="4.05" fill="none" stroke="#000" stroke-width="1.5"/>
<circle cx="124.6" cy="387.8" r="4.05" fill="none" stroke="#000" stroke-width="1.5"/>
<circle cx="133.9" cy="398.6" r="4.05" fill="none" stroke="#000" stroke-width="1.5"/>
<circle cx="140.6" cy="382.3" r="4.05" fill="none" stroke="#000" stroke-width="1.5"/>
<circle cx="149.9" cy="396.9" r="4.05" fill="none" stroke="#000" stroke-width="1.5"/>
<circle cx="156.5" cy="388.5" r="4.05" fill="none" stroke="#000" stroke-width="1.5"/>
<circle cx="166.1" cy="394.7" r="4.05" fill="none" stroke="#000" stroke-width="1.5"/>
<circle cx="172.4" cy="400.8" r="4.05" fill="none" stroke="#000" stroke-width="1.5"/>
<circle cx="181.7" cy="415.0" r="4.05" fill="none" stroke="#000" stroke-width="1.5"/>
<circle cx="188.3" cy="426.7" r="4.05" fill="none" stroke="#000" stroke-width="1.5"/>
<circle cx="197.6" cy="448.8" r="4.05" fill="none" stroke="#000" stroke-width="1.5"/>
<circle cx="204.1" cy="469.4" r="4.05" fill="none" stroke="#000" stroke-width="1.5"/>
<circle cx="213.5" cy="479.7" r="4.05" fill="none" stroke="#000" stroke-width="1.5"/>
<circle cx="220.0" cy="489.0" r="4.05" fill="none" stroke="#000" stroke-width="1.5"/>
<circle cx="229.4" cy="508.5" r="4.05" fill="none" stroke="#000" stroke-width="1.5"/>
<circle cx="236.2" cy="517.8" r="4.05" fill="none" stroke="#000" stroke-width="1.5"/>
<circle cx="245.5" cy="533.7" r="4.05" fill="none" stroke="#000" stroke-width="1.5"/>
<circle cx="251.8" cy="550.3" r="4.05" fill="none" stroke="#000" stroke-width="1.5"/>
<circle cx="261.4" cy="548.7" r="4.05" fill="none" stroke="#000" stroke-width="1.5"/>
<circle cx="267.5" cy="560.3" r="4.05" fill="none" stroke="#000" stroke-width="1.5"/>
<circle cx="277.0" cy="560.7" r="4.05" fill="none" stroke="#000" stroke-width="1.5"/>
<circle cx="284.0" cy="564.6" r="4.05" fill="none" stroke="#000" stroke-width="1.5"/>
<line x1="57.0" y1="479.5" x2="212.4" y2="479.5" stroke="#e4232f" stroke-width="1.35" stroke-dasharray="1.35 1.9"/>
<line x1="212.4" y1="479.5" x2="212.4" y2="566" stroke="#e4232f" stroke-width="1.35" stroke-dasharray="1.35 1.9"/>
<line x1="55.65" y1="347.30" x2="55.65" y2="573.00" stroke="#000" stroke-width="2.6"/>
<line x1="49.55" y1="567.2" x2="331.50" y2="567.2" stroke="#000" stroke-width="2.6"/>
<line x1="49.55" y1="567.20" x2="55.65" y2="567.20" stroke="#000" stroke-width="2.6"/>
<text x="28.75" y="572.20" font-size="14.0" font-weight="bold" fill="#000">0.0</text>
<line x1="49.55" y1="530.72" x2="55.65" y2="530.72" stroke="#000" stroke-width="2.6"/>
<text x="28.75" y="535.72" font-size="14.0" font-weight="bold" fill="#000">0.2</text>
<line x1="49.55" y1="494.23" x2="55.65" y2="494.23" stroke="#000" stroke-width="2.6"/>
<text x="28.26" y="499.23" font-size="14.0" font-weight="bold" fill="#000">0.4</text>
<line x1="49.55" y1="457.75" x2="55.65" y2="457.75" stroke="#000" stroke-width="2.6"/>
<text x="28.68" y="462.75" font-size="14.0" font-weight="bold" fill="#000">0.6</text>
<line x1="49.55" y1="421.27" x2="55.65" y2="421.27" stroke="#000" stroke-width="2.6"/>
<text x="28.61" y="426.27" font-size="14.0" font-weight="bold" fill="#000">0.8</text>
<line x1="49.55" y1="384.78" x2="55.65" y2="384.78" stroke="#000" stroke-width="2.6"/>
<text x="28.75" y="389.78" font-size="14.0" font-weight="bold" fill="#000">1.0</text>
<line x1="49.55" y1="348.30" x2="55.65" y2="348.30" stroke="#000" stroke-width="2.6"/>
<text x="28.75" y="353.30" font-size="14.0" font-weight="bold" fill="#000">1.2</text>
<line x1="55.65" y1="567.2" x2="55.65" y2="573.00" stroke="#000" stroke-width="2.6"/>
<text x="41.65" y="588.10" font-size="14.0" font-weight="bold" fill="#000">0.01</text>
<line x1="108.45" y1="567.2" x2="108.45" y2="573.00" stroke="#000" stroke-width="2.6"/>
<text x="98.33" y="588.10" font-size="14.0" font-weight="bold" fill="#000">0.1</text>
<line x1="161.25" y1="567.2" x2="161.25" y2="573.00" stroke="#000" stroke-width="2.6"/>
<text x="156.82" y="588.10" font-size="14.0" font-weight="bold" fill="#000">1</text>
<line x1="214.05" y1="567.2" x2="214.05" y2="573.00" stroke="#000" stroke-width="2.6"/>
<text x="205.82" y="588.10" font-size="14.0" font-weight="bold" fill="#000">10</text>
<line x1="266.85" y1="567.2" x2="266.85" y2="573.00" stroke="#000" stroke-width="2.6"/>
<text x="254.72" y="588.10" font-size="14.0" font-weight="bold" fill="#000">100</text>
<line x1="319.65" y1="567.2" x2="319.65" y2="573.00" stroke="#000" stroke-width="2.6"/>
<text x="303.63" y="588.10" font-size="14.0" font-weight="bold" fill="#000">1000</text>
<text x="142.82" y="611.90" font-size="16.2" font-weight="bold" fill="#000" textLength="101.00" lengthAdjust="spacingAndGlyphs">RBD (log nM)</text>
<g transform="translate(18.50,481.40) rotate(-90)"><text x="-0.38" y="0" font-size="16.0" font-weight="bold" textLength="10.89" lengthAdjust="spacingAndGlyphs">A</text><text x="9.81" y="3.6" font-size="12.0" font-weight="bold" textLength="41.09" lengthAdjust="spacingAndGlyphs">450nm</text></g>
<text x="176.72" y="562.30" font-size="13.8" fill="#e2343f" textLength="9.55" lengthAdjust="spacingAndGlyphs">K</text>
<text x="186.31" y="562.30" font-size="9.0" fill="#e2343f" textLength="22.96" lengthAdjust="spacingAndGlyphs">d,app</text>
<text x="342.08" y="330.70" font-size="20.4" font-weight="bold" fill="#262626" textLength="12.46" lengthAdjust="spacingAndGlyphs">d</text>
<path d="M395.65,368.56 L396.65,368.58 L397.65,368.60 L398.65,368.63 L399.65,368.65 L400.65,368.67 L401.65,368.70 L402.65,368.73 L403.65,368.76 L404.65,368.79 L405.65,368.82 L406.65,368.86 L407.65,368.90 L408.65,368.94 L409.65,368.98 L410.65,369.02 L411.65,369.07 L412.65,369.12 L413.65,369.18 L414.65,369.23 L415.65,369.29 L416.65,369.36 L417.65,369.42 L418.65,369.50 L419.65,369.57 L420.65,369.65 L421.65,369.74 L422.65,369.83 L423.65,369.92 L424.65,370.02 L425.65,370.13 L426.65,370.24 L427.65,370.36 L428.65,370.49 L429.65,370.63 L430.65,370.77 L431.65,370.92 L432.65,371.08 L433.65,371.25 L434.65,371.43 L435.65,371.62 L436.65,371.82 L437.65,372.03 L438.65,372.25 L439.65,372.49 L440.65,372.74 L441.65,373.00 L442.65,373.28 L443.65,373.57 L444.65,373.88 L445.65,374.21 L446.65,374.56 L447.65,374.92 L448.65,375.31 L449.65,375.71 L450.65,376.14 L451.65,376.59 L452.65,377.06 L453.65,377.56 L454.65,378.08 L455.65,378.63 L456.65,379.21 L457.65,379.82 L458.65,380.45 L459.65,381.12 L460.65,381.82 L461.65,382.55 L462.65,383.32 L463.65,384.12 L464.65,384.96 L465.65,385.84 L466.65,386.75 L467.65,387.70 L468.65,388.69 L469.65,389.72 L470.65,390.79 L471.65,391.91 L472.65,393.06 L473.65,394.25 L474.65,395.49 L475.65,396.77 L476.65,398.08 L477.65,399.44 L478.65,400.84 L479.65,402.28 L480.65,403.76 L481.65,405.27 L482.65,406.82 L483.65,408.40 L484.65,410.02 L485.65,411.66 L486.65,413.34 L487.65,415.04 L488.65,416.76 L489.65,418.51 L490.65,420.27 L491.65,422.05 L492.65,423.84 L493.65,425.64 L494.65,427.45 L495.65,429.26 L496.65,431.08 L497.65,432.89 L498.65,434.69 L499.65,436.48 L500.65,438.27 L501.65,440.03 L502.65,441.78 L503.65,443.51 L504.65,445.22 L505.65,446.90 L506.65,448.56 L507.65,450.19 L508.65,451.78 L509.65,453.34 L510.65,454.87 L511.65,456.36 L512.65,457.82 L513.65,459.24 L514.65,460.62 L515.65,461.97 L516.65,463.27 L517.65,464.54 L518.65,465.77 L519.65,466.95 L520.65,468.11 L521.65,469.22 L522.65,470.30 L523.65,471.34 L524.65,472.34 L525.65,473.31 L526.65,474.24 L527.65,475.14 L528.65,476.01 L529.65,476.85 L530.65,477.66 L531.65,478.44 L532.65,479.19 L533.65,479.92 L534.65,480.62 L535.65,481.30 L536.65,481.95 L537.65,482.58 L538.65,483.19 L539.65,483.78 L540.65,484.35 L541.65,484.91 L542.65,485.45 L543.65,485.97 L544.65,486.48 L545.65,486.98 L546.65,487.46 L547.65,487.94 L548.65,488.40 L549.65,488.85 L550.65,489.30 L551.65,489.74 L552.65,490.17 L553.65,490.60 L554.65,491.02 L555.65,491.43 L556.65,491.85 L557.65,492.26 L558.65,492.67 L559.65,493.07 L560.65,493.48 L561.65,493.88 L562.65,494.29 L563.65,494.70 L564.65,495.11 L565.65,495.52 L566.65,495.93 L567.65,496.35 L568.65,496.77 L569.65,497.19 L570.65,497.62 L571.65,498.05 L572.65,498.49 L573.65,498.94 L574.65,499.39 L575.65,499.85 L576.65,500.31 L577.65,500.78 L578.65,501.26 L579.65,501.74 L580.65,502.23 L581.65,502.74 L582.65,503.24 L583.65,503.76 L584.65,504.29 L585.65,504.82 L586.65,505.37 L587.65,505.92 L588.65,506.48 L589.65,507.05 L590.65,507.63 L591.65,508.22 L592.65,508.82 L593.65,509.43 L594.65,510.04 L595.65,510.67 L596.65,511.30 L597.65,511.95 L598.65,512.60 L599.65,513.26 L600.65,513.93 L601.65,514.61 L602.65,515.29 L603.65,515.99 L604.65,516.69 L605.65,517.40 L606.65,518.11 L607.65,518.83 L608.65,519.56 L609.65,520.30 L610.65,521.04 L611.65,521.78 L612.65,522.53 L613.65,523.28 L614.65,524.04 L615.65,524.80 L616.65,525.57 L617.65,526.34 L618.65,527.11 L619.65,527.88 L620.65,528.65 L621.65,529.42 L622.65,530.20 L623.65,530.97 L624.65,531.74 L625.65,532.51 L626.65,533.28 L627.65,534.05 L628.65,534.81 L629.65,535.57 L630.65,536.33 L631.65,537.08 L632.65,537.83 L633.65,538.57 L634.65,539.31 L635.65,540.04 L636.65,540.76 L637.65,541.48 L638.65,542.19 L639.65,542.90 L640.65,543.59 L641.65,544.28 L642.65,544.96 L643.65,545.63 L644.65,546.29 L645.65,546.94 L646.65,547.59 L647.65,548.22 L648.65,548.84 L649.65,549.46 L650.65,550.06 L651.65,550.65 L652.65,551.24 L653.65,551.81 L654.65,552.37 L655.65,552.92 L656.65,553.46 L657.65,553.99 L658.65,554.51 L659.65,555.02 L660.65,555.51 L661.65,556.00 L662.65,556.47 L663.65,556.94 L664.65,557.39 L665.65,557.84 L666.65,558.27 L667.65,558.69 L668.65,559.10 L669.65,559.51 L670.00,559.65" fill="none" stroke="#000" stroke-width="1.4"/>
<path d="M395.65,381.44 L396.65,381.44 L397.65,381.44 L398.65,381.44 L399.65,381.44 L400.65,381.45 L401.65,381.45 L402.65,381.45 L403.65,381.45 L404.65,381.45 L405.65,381.45 L406.65,381.45 L407.65,381.45 L408.65,381.45 L409.65,381.46 L410.65,381.46 L411.65,381.46 L412.65,381.46 L413.65,381.46 L414.65,381.47 L415.65,381.47 L416.65,381.47 L417.65,381.47 L418.65,381.48 L419.65,381.48 L420.65,381.49 L421.65,381.49 L422.65,381.49 L423.65,381.50 L424.65,381.50 L425.65,381.51 L426.65,381.52 L427.65,381.52 L428.65,381.53 L429.65,381.54 L430.65,381.55 L431.65,381.56 L432.65,381.57 L433.65,381.58 L434.65,381.59 L435.65,381.60 L436.65,381.62 L437.65,381.63 L438.65,381.65 L439.65,381.67 L440.65,381.69 L441.65,381.71 L442.65,381.73 L443.65,381.76 L444.65,381.78 L445.65,381.81 L446.65,381.85 L447.65,381.88 L448.65,381.92 L449.65,381.96 L450.65,382.00 L451.65,382.05 L452.65,382.10 L453.65,382.15 L454.65,382.21 L455.65,382.27 L456.65,382.34 L457.65,382.41 L458.65,382.49 L459.65,382.58 L460.65,382.67 L461.65,382.77 L462.65,382.88 L463.65,383.00 L464.65,383.12 L465.65,383.25 L466.65,383.40 L467.65,383.55 L468.65,383.72 L469.65,383.90 L470.65,384.09 L471.65,384.29 L472.65,384.51 L473.65,384.75 L474.65,385.00 L475.65,385.27 L476.65,385.56 L477.65,385.87 L478.65,386.20 L479.65,386.55 L480.65,386.92 L481.65,387.32 L482.65,387.75 L483.65,388.20 L484.65,388.68 L485.65,389.20 L486.65,389.74 L487.65,390.32 L488.65,390.93 L489.65,391.57 L490.65,392.26 L491.65,392.98 L492.65,393.74 L493.65,394.55 L494.65,395.39 L495.65,396.29 L496.65,397.22 L497.65,398.21 L498.65,399.24 L499.65,400.32 L500.65,401.46 L501.65,402.64 L502.65,403.88 L503.65,405.16 L504.65,406.51 L505.65,407.90 L506.65,409.35 L507.65,410.85 L508.65,412.41 L509.65,414.02 L510.65,415.69 L511.65,417.40 L512.65,419.17 L513.65,421.00 L514.65,422.87 L515.65,424.79 L516.65,426.75 L517.65,428.77 L518.65,430.82 L519.65,432.92 L520.65,435.06 L521.65,437.23 L522.65,439.44 L523.65,441.69 L524.65,443.96 L525.65,446.26 L526.65,448.58 L527.65,450.92 L528.65,453.28 L529.65,455.65 L530.65,458.04 L531.65,460.44 L532.65,462.84 L533.65,465.24 L534.65,467.64 L535.65,470.04 L536.65,472.43 L537.65,474.80 L538.65,477.17 L539.65,479.52 L540.65,481.86 L541.65,484.17 L542.65,486.46 L543.65,488.72 L544.65,490.96 L545.65,493.17 L546.65,495.35 L547.65,497.49 L548.65,499.60 L549.65,501.67 L550.65,503.71 L551.65,505.71 L552.65,507.66 L553.65,509.58 L554.65,511.46 L555.65,513.29 L556.65,515.09 L557.65,516.84 L558.65,518.55 L559.65,520.21 L560.65,521.83 L561.65,523.41 L562.65,524.95 L563.65,526.44 L564.65,527.89 L565.65,529.30 L566.65,530.67 L567.65,532.00 L568.65,533.28 L569.65,534.53 L570.65,535.74 L571.65,536.90 L572.65,538.03 L573.65,539.13 L574.65,540.18 L575.65,541.21 L576.65,542.19 L577.65,543.15 L578.65,544.06 L579.65,544.95 L580.65,545.81 L581.65,546.63 L582.65,547.43 L583.65,548.19 L584.65,548.93 L585.65,549.64 L586.65,550.33 L587.65,550.99 L588.65,551.62 L589.65,552.23 L590.65,552.82 L591.65,553.38 L592.65,553.92 L593.65,554.44 L594.65,554.94 L595.65,555.43 L596.65,555.89 L597.65,556.33 L598.65,556.76 L599.65,557.17 L600.65,557.56 L601.65,557.94 L602.65,558.30 L603.65,558.65 L604.65,558.98 L605.65,559.30 L606.65,559.61 L607.65,559.90 L608.65,560.18 L609.65,560.45 L610.65,560.71 L611.65,560.96 L612.65,561.20 L613.65,561.43 L614.65,561.65 L615.65,561.86 L616.65,562.06 L617.65,562.25 L618.65,562.44 L619.65,562.62 L620.65,562.79 L621.65,562.95 L622.65,563.10 L623.65,563.25 L624.65,563.40 L625.65,563.53 L626.65,563.66 L627.65,563.79 L628.65,563.91 L629.65,564.02 L630.65,564.13 L631.65,564.24 L632.65,564.34 L633.65,564.44 L634.65,564.53 L635.65,564.62 L636.65,564.70 L637.65,564.79 L638.65,564.86 L639.65,564.94 L640.65,565.01 L641.65,565.08 L642.65,565.14 L643.65,565.21 L644.65,565.27 L645.65,565.32 L646.65,565.38 L647.65,565.43 L648.65,565.48 L649.65,565.53 L650.65,565.57 L651.65,565.62 L652.65,565.66 L653.65,565.70 L654.65,565.74 L655.65,565.78 L656.65,565.81 L657.65,565.85 L658.65,565.88 L659.65,565.91 L660.65,565.94 L661.65,565.97 L662.65,565.99 L663.65,566.02 L664.65,566.05 L665.65,566.07 L666.65,566.09 L667.65,566.11 L668.65,566.13 L669.65,566.15 L670.00,566.16" fill="none" stroke="#000" stroke-width="1.4" stroke-dasharray="5 4.8"/>
<circle cx="399.9" cy="363.2" r="4.05" fill="none" stroke="#000" stroke-width="1.5"/>
<circle cx="409.2" cy="371.2" r="4.05" fill="none" stroke="#000" stroke-width="1.5"/>
<circle cx="415.8" cy="366.9" r="4.05" fill="none" stroke="#000" stroke-width="1.5"/>
<circle cx="425.1" cy="366.2" r="4.05" fill="none" stroke="#000" stroke-width="1.5"/>
<circle cx="431.4" cy="384.8" r="4.05" fill="none" stroke="#000" stroke-width="1.5"/>
<circle cx="441.0" cy="372.2" r="4.05" fill="none" stroke="#000" stroke-width="1.5"/>
<circle cx="447.7" cy="380.4" r="4.05" fill="none" stroke="#000" stroke-width="1.5"/>
<circle cx="456.9" cy="373.4" r="4.05" fill="none" stroke="#000" stroke-width="1.5"/>
<circle cx="463.3" cy="393.0" r="4.05" fill="none" stroke="#000" stroke-width="1.5"/>
<circle cx="472.9" cy="386.0" r="4.05" fill="none" stroke="#000" stroke-width="1.5"/>
<circle cx="479.6" cy="414.4" r="4.05" fill="none" stroke="#000" stroke-width="1.5"/>
<circle cx="488.9" cy="416.1" r="4.05" fill="none" stroke="#000" stroke-width="1.5"/>
<circle cx="495.5" cy="436.9" r="4.05" fill="none" stroke="#000" stroke-width="1.5"/>
<circle cx="504.5" cy="436.2" r="4.05" fill="none" stroke="#000" stroke-width="1.5"/>
<circle cx="511.1" cy="458.8" r="4.05" fill="none" stroke="#000" stroke-width="1.5"/>
<circle cx="520.4" cy="459.6" r="4.05" fill="none" stroke="#000" stroke-width="1.5"/>
<circle cx="527.2" cy="464.7" r="4.05" fill="none" stroke="#000" stroke-width="1.5"/>
<circle cx="536.5" cy="475.7" r="4.05" fill="none" stroke="#000" stroke-width="1.5"/>
<circle cx="543.1" cy="478.0" r="4.05" fill="none" stroke="#000" stroke-width="1.5"/>
<circle cx="552.4" cy="492.3" r="4.05" fill="none" stroke="#000" stroke-width="1.5"/>
<circle cx="558.7" cy="495.0" r="4.05" fill="none" stroke="#000" stroke-width="1.5"/>
<circle cx="568.0" cy="496.0" r="4.05" fill="none" stroke="#000" stroke-width="1.5"/>
<circle cx="574.9" cy="507.9" r="4.05" fill="none" stroke="#000" stroke-width="1.5"/>
<circle cx="583.9" cy="501.8" r="4.05" fill="none" stroke="#000" stroke-width="1.5"/>
<circle cx="590.6" cy="518.4" r="4.05" fill="none" stroke="#000" stroke-width="1.5"/>
<circle cx="600.1" cy="514.2" r="4.05" fill="none" stroke="#000" stroke-width="1.5"/>
<circle cx="606.5" cy="521.8" r="4.05" fill="none" stroke="#000" stroke-width="1.5"/>
<circle cx="615.5" cy="520.0" r="4.05" fill="none" stroke="#000" stroke-width="1.5"/>
<circle cx="622.4" cy="535.0" r="4.05" fill="none" stroke="#000" stroke-width="1.5"/>
<circle cx="632.1" cy="531.7" r="4.05" fill="none" stroke="#000" stroke-width="1.5"/>
<circle cx="638.2" cy="541.3" r="4.05" fill="none" stroke="#000" stroke-width="1.5"/>
<circle cx="647.6" cy="541.5" r="4.05" fill="none" stroke="#000" stroke-width="1.5"/>
<circle cx="654.5" cy="548.7" r="4.05" fill="none" stroke="#000" stroke-width="1.5"/>
<line x1="397.0" y1="435.0" x2="498.8" y2="435.0" stroke="#e4232f" stroke-width="1.35" stroke-dasharray="1.35 1.9"/>
<line x1="498.8" y1="435.0" x2="498.8" y2="566" stroke="#e4232f" stroke-width="1.35" stroke-dasharray="1.35 1.9"/>
<line x1="397.0" y1="522.8" x2="613.2" y2="522.8" stroke="#e4232f" stroke-width="1.35" stroke-dasharray="1.35 1.9"/>
<line x1="613.2" y1="522.8" x2="613.2" y2="566" stroke="#e4232f" stroke-width="1.35" stroke-dasharray="1.35 1.9"/>
<line x1="395.65" y1="347.50" x2="395.65" y2="572.90" stroke="#000" stroke-width="2.6"/>
<line x1="389.55" y1="567.1" x2="676.20" y2="567.1" stroke="#000" stroke-width="2.6"/>
<line x1="389.55" y1="567.10" x2="395.65" y2="567.10" stroke="#000" stroke-width="2.6"/>
<text x="368.75" y="572.10" font-size="14.0" font-weight="bold" fill="#000">0.0</text>
<line x1="389.55" y1="523.38" x2="395.65" y2="523.38" stroke="#000" stroke-width="2.6"/>
<text x="368.57" y="528.38" font-size="14.0" font-weight="bold" fill="#000">0.5</text>
<line x1="389.55" y1="479.66" x2="395.65" y2="479.66" stroke="#000" stroke-width="2.6"/>
<text x="368.75" y="484.66" font-size="14.0" font-weight="bold" fill="#000">1.0</text>
<line x1="389.55" y1="435.94" x2="395.65" y2="435.94" stroke="#000" stroke-width="2.6"/>
<text x="368.57" y="440.94" font-size="14.0" font-weight="bold" fill="#000">1.5</text>
<line x1="389.55" y1="392.22" x2="395.65" y2="392.22" stroke="#000" stroke-width="2.6"/>
<text x="368.75" y="397.22" font-size="14.0" font-weight="bold" fill="#000">2.0</text>
<line x1="389.55" y1="348.50" x2="395.65" y2="348.50" stroke="#000" stroke-width="2.6"/>
<text x="368.57" y="353.50" font-size="14.0" font-weight="bold" fill="#000">2.5</text>
<line x1="395.65" y1="567.1" x2="395.65" y2="572.90" stroke="#000" stroke-width="2.6"/>
<text x="381.65" y="588.00" font-size="14.0" font-weight="bold" fill="#000">0.01</text>
<line x1="449.37" y1="567.1" x2="449.37" y2="572.90" stroke="#000" stroke-width="2.6"/>
<text x="439.25" y="588.00" font-size="14.0" font-weight="bold" fill="#000">0.1</text>
<line x1="503.09" y1="567.1" x2="503.09" y2="572.90" stroke="#000" stroke-width="2.6"/>
<text x="498.66" y="588.00" font-size="14.0" font-weight="bold" fill="#000">1</text>
<line x1="556.81" y1="567.1" x2="556.81" y2="572.90" stroke="#000" stroke-width="2.6"/>
<text x="548.58" y="588.00" font-size="14.0" font-weight="bold" fill="#000">10</text>
<line x1="610.53" y1="567.1" x2="610.53" y2="572.90" stroke="#000" stroke-width="2.6"/>
<text x="598.40" y="588.00" font-size="14.0" font-weight="bold" fill="#000">100</text>
<line x1="664.25" y1="567.1" x2="664.25" y2="572.90" stroke="#000" stroke-width="2.6"/>
<text x="648.24" y="588.00" font-size="14.0" font-weight="bold" fill="#000">1000</text>
<text x="484.72" y="611.90" font-size="16.2" font-weight="bold" fill="#000" textLength="101.31" lengthAdjust="spacingAndGlyphs">RBD (log nM)</text>
<text x="458.53" y="561.90" font-size="13.8" fill="#e2343f" textLength="9.44" lengthAdjust="spacingAndGlyphs">K</text>
<text x="468.12" y="561.90" font-size="9.0" fill="#e2343f" textLength="27.42" lengthAdjust="spacingAndGlyphs">d,app1</text>
<text x="555.43" y="561.90" font-size="13.8" fill="#e2343f" textLength="9.44" lengthAdjust="spacingAndGlyphs">K</text>
<text x="565.01" y="561.90" font-size="9.0" fill="#e2343f" textLength="27.85" lengthAdjust="spacingAndGlyphs">d,app2</text>
</svg>
</body></html>
